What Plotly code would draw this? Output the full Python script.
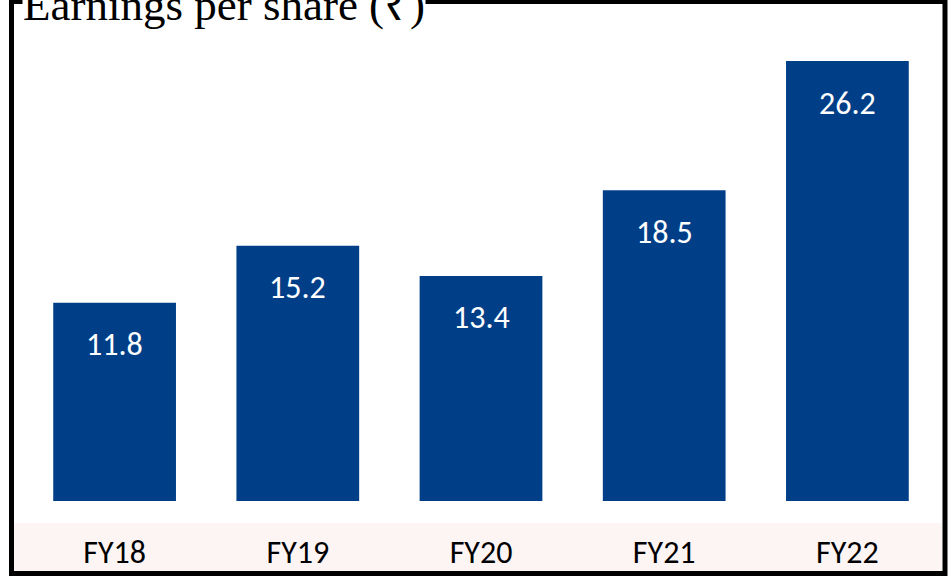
import plotly.graph_objects as go

categories = ["FY18", "FY19", "FY20", "FY21", "FY22"]
eps_values = [11.8, 15.2, 13.4, 18.5, 26.2]
title_text = "Earnings per share (₹)"

BAR_COLOR = "#003F88"
W, H = 948, 576
ML, MR, MT, MB = 23, 9, 40, 75
PW, PH = W - ML - MR, H - MT - MB
LABEL_FONT = "Calibri, Carlito, Lato, Open Sans, sans-serif"


def px_x(px):
    return (px - ML) / PW


def px_y(py):
    return (H - MB - py) / PH


fig = go.Figure()
fig.add_trace(go.Bar(
    x=categories, y=eps_values,
    marker=dict(color=BAR_COLOR, line=dict(width=0)),
    hoverinfo="skip",
))

annotations = []
for c, v in zip(categories, eps_values):
    annotations.append(dict(
        x=c, y=v, xref="x", yref="y", text=f"{v:.1f}", showarrow=False,
        yanchor="middle", yshift=-42,
        font=dict(family=LABEL_FONT, size=32, color="white"),
    ))

annotations.append(dict(
    x=px_x(22), y=px_y(5), xref="paper", yref="paper", text=title_text,
    showarrow=False, xanchor="left", yanchor="middle",
    font=dict(family="Liberation Serif, Times New Roman, serif", size=45, color="black"),
    bgcolor="white", borderpad=0,
))

shapes = [
    # faint watermark band at bottom
    dict(type="rect", xref="paper", yref="paper",
         x0=px_x(13), x1=px_x(942), y0=px_y(523), y1=px_y(571),
         fillcolor="#FDF4F4", line=dict(width=0), layer="below"),
    # outer border
    dict(type="rect", xref="paper", yref="paper",
         x0=px_x(11.5), x1=px_x(945), y0=px_y(573.5), y1=px_y(1.5),
         line=dict(color="black", width=5), fillcolor="rgba(0,0,0,0)", layer="above"),
]

fig.update_layout(
    width=W, height=H,
    margin=dict(l=ML, r=MR, t=MT, b=MB, autoexpand=False),
    paper_bgcolor="white", plot_bgcolor="rgba(0,0,0,0)",
    bargap=0.33,
    showlegend=False,
    annotations=annotations,
    shapes=shapes,
    xaxis=dict(
        showgrid=False, zeroline=False, showline=False, automargin=False,
        ticks="outside", ticklen=23, tickcolor="rgba(0,0,0,0)",
        tickfont=dict(family=LABEL_FONT, size=32, color="black"),
    ),
    yaxis=dict(
        range=[0, PH / (440 / 26.2)], visible=False, showgrid=False, zeroline=False,
        automargin=False,
    ),
)

fig.write_html(
    "out.html",
    config={"displayModeBar": False},
    post_script="document.body.style.margin='0';document.body.style.overflow='hidden';",
)
